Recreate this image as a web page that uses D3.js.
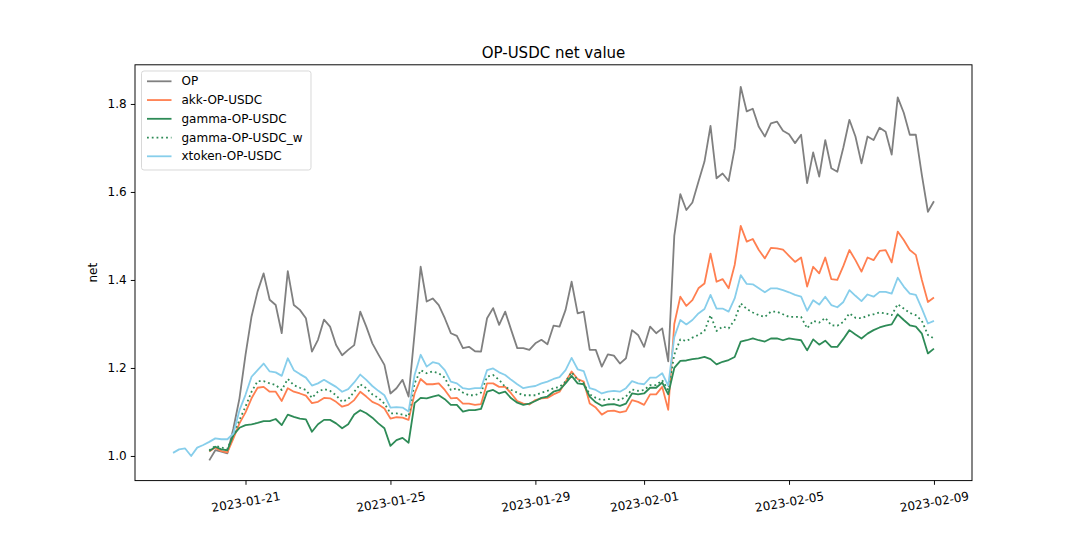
<!DOCTYPE html>
<html><head><meta charset="utf-8">
<script src="https://cdn.jsdelivr.net/npm/d3@7"></script>
<style>body{margin:0;background:#fff} svg text{font-family:"DejaVu Sans",sans-serif;fill:#000}</style>
</head><body><svg id="c" width="1080" height="540"></svg>
<script>
// ---- data (4-hour samples) ----
const startTime = "2023-01-19T00:00:00Z";
const stepHours = 4;
const seriesNames = ["OP", "akk-OP-USDC", "gamma-OP-USDC", "gamma-OP-USDC_w", "xtoken-OP-USDC"];
const seriesColors = ["#808080", "#ff7f50", "#2e8b57", "#2e8b57", "#87ceeb"];
const seriesDotted = [false, false, false, true, false];

const OP = [
 null,null,null,null,null,null,0.990,1.013,1.010,1.006,
 1.063,1.131,1.230,1.317,1.374,1.415,1.355,1.343,1.279,1.420,
 1.343,1.332,1.313,1.237,1.264,1.310,1.294,1.252,1.229,1.241,
 1.252,1.328,1.294,1.256,1.231,1.207,1.142,1.154,1.173,1.135,
 1.279,1.430,1.351,1.358,1.343,1.313,1.279,1.273,1.245,1.248,
 1.238,1.237,1.313,1.336,1.298,1.328,1.286,1.245,1.245,1.241,
 1.256,1.264,1.254,1.296,1.294,1.332,1.396,1.324,1.328,1.241,
 1.241,1.203,1.231,1.228,1.210,1.222,1.286,1.275,1.248,1.294,
 1.279,1.290,1.215,1.500,1.595,1.559,1.576,1.623,1.669,1.750,
 1.631,1.642,1.625,1.699,1.839,1.783,1.789,1.748,1.726,1.756,
 1.760,1.739,1.731,1.711,1.730,1.620,1.690,1.635,1.718,1.654,
 1.646,1.701,1.764,1.726,1.665,1.726,1.718,1.746,1.737,1.685,
 1.815,1.780,1.730,1.730,1.638,1.555,1.579
];
const akk = [
 null,null,null,null,null,null,1.010,1.019,1.011,1.008,
 1.040,1.074,1.099,1.131,1.155,1.157,1.146,1.146,1.125,1.154,
 1.146,1.142,1.137,1.120,1.123,1.132,1.131,1.123,1.112,1.116,
 1.127,1.146,1.135,1.123,1.117,1.108,1.085,1.088,1.087,1.082,
 1.142,1.175,1.163,1.163,1.165,1.150,1.131,1.132,1.119,1.119,
 1.116,1.118,1.165,1.165,1.157,1.157,1.142,1.125,1.119,1.117,
 1.127,1.131,1.132,1.140,1.146,1.169,1.192,1.175,1.169,1.119,
 1.110,1.094,1.102,1.103,1.099,1.102,1.127,1.123,1.116,1.140,
 1.140,1.157,1.105,1.300,1.362,1.341,1.354,1.381,1.392,1.460,
 1.396,1.402,1.381,1.434,1.523,1.487,1.493,1.468,1.449,1.473,
 1.472,1.469,1.455,1.441,1.451,1.385,1.430,1.415,1.451,1.402,
 1.400,1.432,1.468,1.445,1.419,1.451,1.445,1.466,1.468,1.440,
 1.510,1.491,1.468,1.457,1.400,1.350,1.360
];
const gamma = [
 null,null,null,null,null,null,1.011,1.021,1.015,1.013,
 1.048,1.064,1.070,1.072,1.075,1.079,1.079,1.084,1.070,1.094,
 1.089,1.085,1.083,1.055,1.072,1.082,1.082,1.074,1.063,1.072,
 1.094,1.104,1.097,1.087,1.074,1.063,1.023,1.036,1.041,1.030,
 1.120,1.132,1.131,1.135,1.138,1.129,1.116,1.116,1.101,1.104,
 1.104,1.107,1.146,1.150,1.142,1.146,1.131,1.121,1.116,1.119,
 1.125,1.132,1.135,1.146,1.150,1.165,1.182,1.165,1.163,1.135,
 1.122,1.114,1.117,1.118,1.114,1.119,1.142,1.140,1.142,1.155,
 1.155,1.167,1.140,1.200,1.216,1.217,1.220,1.222,1.225,1.220,
 1.208,1.214,1.218,1.225,1.260,1.263,1.267,1.263,1.260,1.267,
 1.267,1.263,1.267,1.265,1.263,1.240,1.265,1.253,1.262,1.248,
 1.248,1.266,1.286,1.276,1.267,1.278,1.286,1.292,1.296,1.299,
 1.322,1.309,1.297,1.294,1.278,1.233,1.244
];
const gammaW = [
 null,null,null,null,null,null,1.013,1.023,1.019,1.016,
 1.048,1.082,1.112,1.146,1.170,1.170,1.165,1.161,1.150,1.175,
 1.161,1.155,1.150,1.132,1.146,1.152,1.148,1.138,1.123,1.129,
 1.146,1.163,1.154,1.140,1.132,1.119,1.097,1.097,1.094,1.090,
 1.165,1.195,1.188,1.192,1.188,1.178,1.150,1.154,1.144,1.138,
 1.138,1.144,1.180,1.184,1.173,1.157,1.150,1.144,1.138,1.138,
 1.138,1.144,1.148,1.154,1.157,1.169,1.190,1.173,1.165,1.140,
 1.132,1.127,1.129,1.129,1.127,1.135,1.151,1.148,1.150,1.161,
 1.161,1.172,1.150,1.230,1.265,1.261,1.269,1.275,1.284,1.320,
 1.284,1.294,1.290,1.309,1.347,1.334,1.326,1.320,1.316,1.328,
 1.328,1.322,1.316,1.316,1.316,1.290,1.307,1.303,1.314,1.297,
 1.296,1.305,1.324,1.314,1.313,1.319,1.322,1.326,1.324,1.320,
 1.345,1.335,1.325,1.320,1.307,1.275,1.267
];
const xtoken = [
 1.007,1.015,1.017,1.000,1.019,1.025,1.032,1.040,1.038,1.038,
 1.051,1.104,1.139,1.180,1.195,1.210,1.192,1.190,1.182,1.222,
 1.195,1.186,1.178,1.160,1.165,1.173,1.165,1.157,1.146,1.152,
 1.167,1.185,1.173,1.159,1.148,1.138,1.110,1.111,1.110,1.101,
 1.184,1.230,1.203,1.213,1.210,1.195,1.169,1.165,1.154,1.152,
 1.154,1.154,1.195,1.199,1.190,1.184,1.173,1.163,1.154,1.157,
 1.159,1.165,1.169,1.175,1.179,1.195,1.223,1.197,1.193,1.154,
 1.150,1.142,1.146,1.148,1.146,1.154,1.170,1.165,1.163,1.178,
 1.178,1.188,1.160,1.270,1.309,1.299,1.309,1.324,1.334,1.366,
 1.335,1.335,1.328,1.358,1.411,1.391,1.390,1.381,1.372,1.381,
 1.381,1.377,1.372,1.366,1.362,1.330,1.354,1.344,1.362,1.343,
 1.338,1.350,1.377,1.364,1.352,1.367,1.362,1.373,1.373,1.369,
 1.405,1.385,1.369,1.366,1.335,1.301,1.307
];
const xTickLabels = ["2023-01-21", "2023-01-25", "2023-01-29", "2023-02-01", "2023-02-05", "2023-02-09"];
const yTickValues = [1.0, 1.2, 1.4, 1.6, 1.8];
const yLimits = [0.944, 1.889];
const titleText = "OP-USDC net value";
const yLabelText = "net";

// ---- layout ----
const W = 1080, H = 540;
const L = 135, R = 972, T = 64.8, B = 480.6;
const svg = d3.select("#c");
svg.append("rect").attr("width", W).attr("height", H).attr("fill", "#fff");

const t0 = new Date(startTime);
const times = xtoken.map((_, i) => new Date(t0.getTime() + i * stepHours * 3600e3));
const ext = d3.extent(times);
const pad = (ext[1] - ext[0]) * 0.05;
const x = d3.scaleUtc().domain([new Date(+ext[0] - pad), new Date(+ext[1] + pad)]).range([L, R]);
const y = d3.scaleLinear().domain(yLimits).range([B, T]);

const allSeries = [OP, akk, gamma, gammaW, xtoken];
const line = d3.line()
  .defined(d => d.v != null)
  .x(d => x(d.t)).y(d => y(d.v));

const gLines = svg.append("g");
allSeries.forEach((vals, si) => {
  const pts = vals.map((v, i) => ({t: times[i], v}));
  gLines.append("path")
    .attr("d", line(pts))
    .attr("fill", "none")
    .attr("stroke", seriesColors[si])
    .attr("stroke-width", 1.8)
    .attr("stroke-linejoin", "round")
    .attr("stroke-dasharray", seriesDotted[si] ? "1.8,2.97" : null);
});

// axes
const xTickDates = xTickLabels.map(s => new Date(s + "T00:00:00Z"));
const xAxis = d3.axisBottom(x).tickValues(xTickDates).tickSize(4.2).tickFormat((d, i) => xTickLabels[i]);
const gx = svg.append("g").attr("transform", `translate(0,${B})`).call(xAxis);
gx.select(".domain").remove();
gx.selectAll(".tick line").attr("stroke", "#000").attr("stroke-width", 0.96);
gx.selectAll(".tick text")
  .attr("y", 0).attr("dy", null)
  .attr("font-size", 12)
  .attr("fill", "#000")
  .attr("text-anchor", "middle")
  .attr("dominant-baseline", "central")
  .attr("transform", "translate(0,21.5) rotate(-10)");

const yAxis = d3.axisLeft(y).tickValues(yTickValues).tickSize(4.2).tickPadding(4.2).tickFormat(d3.format(".1f"));
const gy = svg.append("g").attr("transform", `translate(${L},0)`).call(yAxis);
gy.select(".domain").remove();
gy.selectAll(".tick line").attr("stroke", "#000").attr("stroke-width", 0.96);
gy.selectAll(".tick text").attr("font-size", 12).attr("fill", "#000");

// spines
svg.append("rect").attr("x", L).attr("y", T).attr("width", R - L).attr("height", B - T)
  .attr("fill", "none").attr("stroke", "#000").attr("stroke-width", 0.96);

// title & label
svg.append("text").attr("x", (L + R) / 2).attr("y", 57.6).attr("text-anchor", "middle")
  .attr("font-size", 15).text(titleText);
svg.append("text").attr("transform", `translate(97,${(T + B) / 2}) rotate(-90)`)
  .attr("text-anchor", "middle").attr("font-size", 12).text(yLabelText);

// legend
const lg = svg.append("g");
lg.append("rect").attr("x", 141.5).attr("y", 71).attr("width", 169.5).attr("height", 99)
  .attr("rx", 2.5).attr("fill", "#fff").attr("fill-opacity", 0.8)
  .attr("stroke", "#d6d6d6").attr("stroke-width", 0.96);
seriesNames.forEach((name, i) => {
  const cy = 81.3 + i * 18.75;
  lg.append("line").attr("x1", 147).attr("x2", 171.5).attr("y1", cy).attr("y2", cy)
    .attr("stroke", seriesColors[i]).attr("stroke-width", 1.8)
    .attr("stroke-dasharray", seriesDotted[i] ? "1.8,2.97" : null);
  lg.append("text").attr("x", 181.5).attr("y", cy).attr("dominant-baseline", "central")
    .attr("font-size", 12).text(name);
});
</script></body></html>
